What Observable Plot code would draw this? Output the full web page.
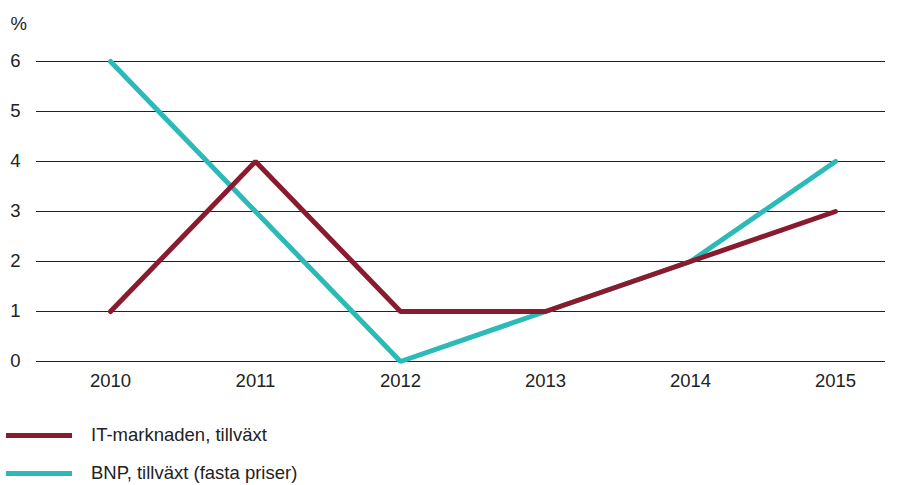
<!DOCTYPE html>
<html>
<head>
<meta charset="utf-8">
<script src="https://cdn.jsdelivr.net/npm/d3@7"></script>
<script src="https://cdn.jsdelivr.net/npm/@observablehq/plot@0.6"></script>
<style>
  body { margin: 0; background: #fff; font-family: "Liberation Sans", Arial, sans-serif; }
  #chart svg { display: block; }
  .legend { margin-top: 16px; }
  .item { display: flex; align-items: center; height: 38px; font-size: 18.5px; color: #222; }
  .swatch { width: 66px; height: 5px; margin-left: 6px; margin-right: 19px; }
</style>
</head>
<body>
<div id="chart"></div>
<div class="legend" id="legend"></div>
<script>
const years = ["2010", "2011", "2012", "2013", "2014", "2015"];
const itMarket = [1, 4, 1, 1, 2, 3];
const bnp = [6, 3, 0, 1, 2, 4];
const seriesNames = ["IT-marknaden, tillväxt", "BNP, tillväxt (fasta priser)"];
const seriesColors = ["#8a1b2f", "#2bbab8"];
const yTicks = [0, 1, 2, 3, 4, 5, 6];
const yUnit = "%";

const dataIt = years.map((y, i) => ({year: y, value: itMarket[i], series: seriesNames[0]}));
const dataBnp = years.map((y, i) => ({year: y, value: bnp[i], series: seriesNames[1]}));

const chart = Plot.plot({
  width: 900,
  height: 400,
  marginLeft: 36,
  marginRight: 15,
  marginTop: 61,
  marginBottom: 39,
  style: {fontFamily: "'Liberation Sans', Arial, sans-serif", fontSize: "18.5px", color: "#222"},
  x: {type: "point", domain: years, padding: 0, insetLeft: 72, insetRight: 49, label: null},
  y: {domain: [0, 6], label: null},
  marks: [
    Plot.ruleY(yTicks, {stroke: "#222", strokeWidth: 1}),
    Plot.axisX({tickSize: 0, tickPadding: 12, label: null, fontSize: 18.5}),
    Plot.axisY(yTicks, {tickSize: 0, tickPadding: 16, tickFormat: d3.format("d"), label: null, fontSize: 18.5}),
    Plot.text([yUnit], {frameAnchor: "top-left", dx: -26, dy: -45, fontSize: 18.5, fill: "#222", textAnchor: "start"}),
    Plot.line(dataBnp, {x: "year", y: "value", stroke: seriesColors[1], strokeWidth: 5, strokeLinejoin: "miter", strokeLinecap: "round"}),
    Plot.line(dataIt, {x: "year", y: "value", stroke: seriesColors[0], strokeWidth: 5, strokeLinejoin: "miter", strokeLinecap: "round"})
  ]
});
document.getElementById("chart").appendChild(chart);

const legend = document.getElementById("legend");
seriesNames.forEach((name, i) => {
  const item = document.createElement("div");
  item.className = "item";
  const sw = document.createElement("span");
  sw.className = "swatch";
  sw.style.background = seriesColors[i];
  const t = document.createElement("span");
  t.textContent = name;
  item.appendChild(sw);
  item.appendChild(t);
  legend.appendChild(item);
});
</script>
</body>
</html>
